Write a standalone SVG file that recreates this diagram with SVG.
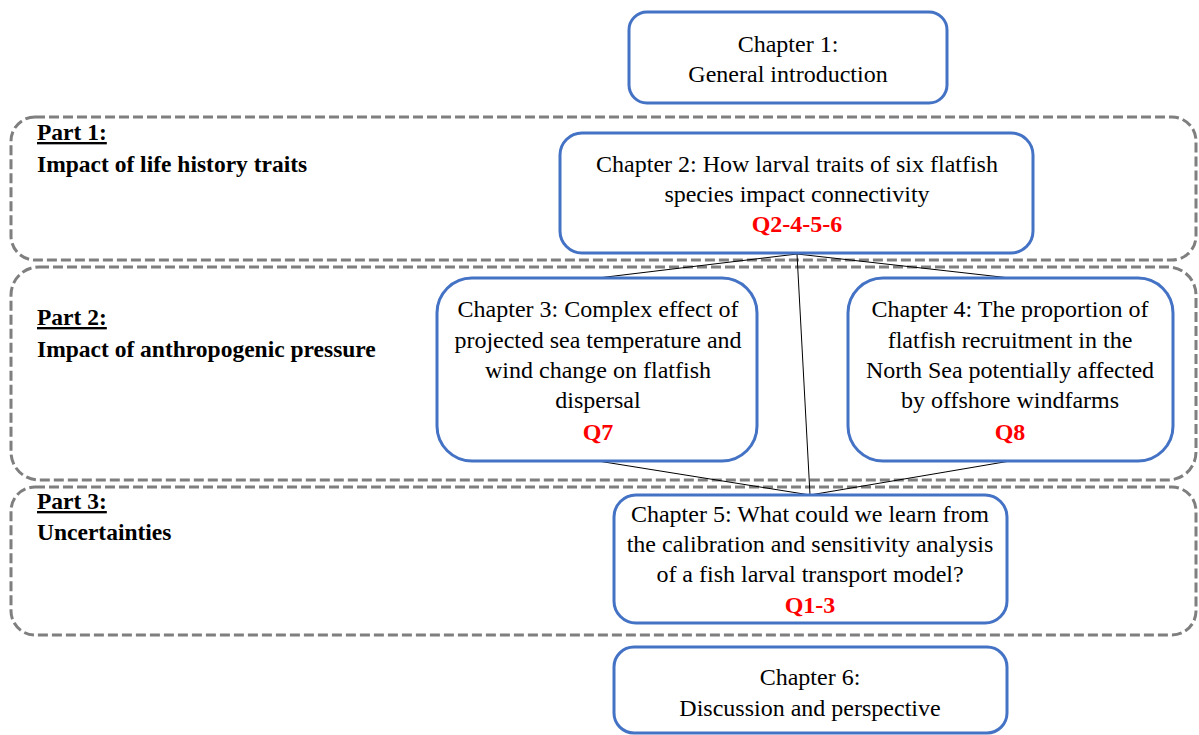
<svg xmlns="http://www.w3.org/2000/svg" width="1199" height="735" viewBox="0 0 1199 735">
<style>
.part{fill:none;stroke:#7f7f7f;stroke-width:3;stroke-dasharray:10 4}
.box{fill:#ffffff;stroke:#4472c4;stroke-width:3}
.t{font-family:"Liberation Serif","Times New Roman",serif;font-size:24px;fill:#000;text-anchor:middle}
.q{font-family:"Liberation Serif","Times New Roman",serif;font-size:24px;font-weight:bold;fill:#ff0000;text-anchor:middle}
.p{font-family:"Liberation Serif","Times New Roman",serif;font-size:23.5px;font-weight:bold;fill:#000}
.conn{fill:none;stroke:#000;stroke-width:1}
</style>
<rect width="1199" height="735" fill="#ffffff"/>
<g id="part1">
<rect class="part" x="11" y="117" width="1185" height="143" rx="24"/>
<text class="p" x="37" y="140" text-decoration="underline">Part 1:</text>
<text class="p" x="37" y="172">Impact of life history traits</text>
</g>
<g id="part2">
<rect class="part" x="11" y="267" width="1185" height="213" rx="28"/>
<text class="p" x="37" y="325" text-decoration="underline">Part 2:</text>
<text class="p" x="37" y="357">Impact of anthropogenic pressure</text>
</g>
<g id="part3">
<rect class="part" x="11" y="487" width="1185" height="148" rx="24"/>
<text class="p" x="37" y="509" text-decoration="underline">Part 3:</text>
<text class="p" x="37" y="540">Uncertainties</text>
</g>
<g id="connectors">
<line class="conn" x1="797" y1="254" x2="598" y2="278"/>
<line class="conn" x1="797" y1="254" x2="1010" y2="278"/>
<line class="conn" x1="797" y1="254" x2="810" y2="495"/>
<line class="conn" x1="598" y1="461" x2="810" y2="495"/>
<line class="conn" x1="1010" y1="461" x2="810" y2="495"/>
</g>
<g id="chapter1">
<rect class="box" x="629" y="12" width="318" height="91" rx="18"/>
<text class="t" x="788" y="52">Chapter 1:</text>
<text class="t" x="788" y="82">General introduction</text>
</g>
<g id="chapter2">
<rect class="box" x="560" y="133" width="473" height="120" rx="22"/>
<text class="t" x="797" y="172">Chapter 2: How larval traits of six flatfish</text>
<text class="t" x="797" y="202">species impact connectivity</text>
<text class="q" x="797" y="232">Q2-4-5-6</text>
</g>
<g id="chapter3">
<rect class="box" x="437" y="278" width="320" height="183" rx="35"/>
<text class="t" x="598" y="317">Chapter 3: Complex effect of</text>
<text class="t" x="598" y="348">projected sea temperature and</text>
<text class="t" x="598" y="378">wind change on flatfish</text>
<text class="t" x="598" y="408">dispersal</text>
<text class="q" x="598" y="440">Q7</text>
</g>
<g id="chapter4">
<rect class="box" x="848" y="278" width="325" height="183" rx="35"/>
<text class="t" x="1010" y="317">Chapter 4: The proportion of</text>
<text class="t" x="1010" y="348">flatfish recruitment in the</text>
<text class="t" x="1010" y="378">North Sea potentially affected</text>
<text class="t" x="1010" y="408">by offshore windfarms</text>
<text class="q" x="1010" y="440">Q8</text>
</g>
<g id="chapter5">
<rect class="box" x="614" y="495" width="393" height="128" rx="22"/>
<text class="t" x="810" y="522">Chapter 5: What could we learn from</text>
<text class="t" x="810" y="552">the calibration and sensitivity analysis</text>
<text class="t" x="810" y="582">of a fish larval transport model?</text>
<text class="q" x="810" y="613">Q1-3</text>
</g>
<g id="chapter6">
<rect class="box" x="614" y="647" width="393" height="86" rx="20"/>
<text class="t" x="810" y="685">Chapter 6:</text>
<text class="t" x="810" y="716">Discussion and perspective</text>
</g>
</svg>
